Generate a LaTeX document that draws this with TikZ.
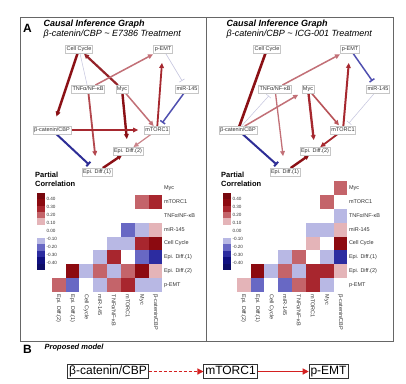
\documentclass[tikz,border=0pt]{standalone}
\usepackage{fontspec}
\setmainfont{Liberation Sans}
\usetikzlibrary{arrows.meta}
\pgfdeclarelayer{back}
\pgfdeclarelayer{bg}
\pgfsetlayers{back,bg,main}
\definecolor{hr4}{HTML}{8C0A10}
\definecolor{hr3}{HTML}{A8262E}
\definecolor{hr2}{HTML}{C4646A}
\definecolor{hr1}{HTML}{E4B4B8}
\definecolor{hb1}{HTML}{B8B8E4}
\definecolor{hb2}{HTML}{6868C4}
\definecolor{hb3}{HTML}{2C2CA0}
\definecolor{hb4}{HTML}{101080}
\definecolor{edr}{HTML}{8B1015}
\definecolor{erd}{HTML}{A6282F}
\definecolor{epk}{HTML}{C27077}
\definecolor{ebl}{HTML}{2E2E96}
\definecolor{ebm}{HTML}{5050B0}
\definecolor{elv}{HTML}{C4C4DE}
\definecolor{bred}{HTML}{D42020}
\definecolor{txt}{HTML}{333333}
\begin{document}
\begin{tikzpicture}[x=1pt,y=-1pt,
  gn/.style={draw=gray!45, fill=white, inner sep=1.1pt, text=txt,
    font=\fontsize{5.5}{6}\selectfont, text height=4.1pt, text depth=1.2pt},
  act/.style={-{Triangle[length=5pt,width=4.6pt]}},
  inh/.style={-{Bar[width=6pt]}},
  hl/.style={text=txt, font=\fontsize{5.5}{6}\selectfont, inner sep=0.5pt},
  ll/.style={text=txt, font=\fontsize{4.6}{5}\selectfont, inner sep=0.3pt, anchor=west},
  ttl/.style={anchor=west, inner sep=0pt, font=\fontsize{9}{10}\selectfont\bfseries\itshape},
  stl/.style={anchor=west, inner sep=0pt, font=\fontsize{9}{10}\selectfont\itshape},
  pb/.style={draw=txt, line width=0.6pt, inner sep=1.5pt, font=\fontsize{12}{13}\selectfont,
    text height=8.6pt, text depth=2.2pt}]
\useasboundingbox (0,0) rectangle (406,383);
\begin{pgfonlayer}{back}
\fill[white] (0,0) rectangle (406,383);
\end{pgfonlayer}
% panel frames
\draw[gray!80!black, line width=0.6pt] (20,17) rectangle (393,341);
\draw[gray!80!black, line width=0.6pt] (206.5,17) -- (206.5,341);
\node[inner sep=0pt, font=\fontsize{12}{13}\selectfont\bfseries] (A) at (27.5,28) {A};
\node[ttl] (t1) at (43.5,24) {Causal Inference Graph};
\node[stl] (s1) at (43.5,34.5) {β-catenin/CBP \textasciitilde{} E7386 Treatment};
\node[ttl] (t2) at (226.5,24) {Causal Inference Graph};
\node[stl] (s2) at (226.5,34.5) {β-catenin/CBP \textasciitilde{} ICG-001 Treatment};

% ---------- left graph nodes
\node[gn] (lCC) at (79,49) {Cell Cycle};
\node[gn] (lPE) at (163,49) {p-EMT};
\node[gn] (lTN) at (88,89) {TNFα/NF-κB};
\node[gn] (lMy) at (122,89) {Myc};
\node[gn] (lMi) at (187,89) {miR-145};
\node[gn] (lBC) at (52,130) {β-catenin/CBP};
\node[gn] (lMT) at (157,130) {mTORC1};
\node[gn] (lE2) at (128,151) {Epi. Diff.(2)};
\node[gn] (lE1) at (97,172) {Epi. Diff.(1)};
% ---------- right graph nodes
\node[gn] (rCC) at (267,49) {Cell Cycle};
\node[gn] (rPE) at (350,49) {p-EMT};
\node[gn] (rTN) at (275,89) {TNFα/NF-κB};
\node[gn] (rMy) at (308,89) {Myc};
\node[gn] (rMi) at (378,89) {miR-145};
\node[gn] (rBC) at (238,130) {β-catenin/CBP};
\node[gn] (rMT) at (343,130) {mTORC1};
\node[gn] (rE2) at (315,151) {Epi. Diff.(2)};
\node[gn] (rE1) at (285,172) {Epi. Diff.(1)};

\begin{pgfonlayer}{bg}
% left edges
\draw[act, edr, line width=2.4pt, shorten >=10pt] (lCC) -- (lBC);
\draw[elv, line width=0.5pt] (lCC) -- (lTN);
\draw[act, erd!90!black, line width=2.2pt, shorten >=1pt] (lMy) -- (lCC);
\draw[act, epk, line width=1.5pt, shorten >=3pt] (lTN) -- (lPE);
\draw[act, erd!85!white, line width=1.8pt, shorten >=12pt] (lTN) -- (lE1);
\draw[act, edr, line width=2.4pt, shorten >=8pt] (lMy) -- (lE2);
\draw[act, epk, line width=1.5pt] (lMy) -- (lMT);
\draw[act, erd, line width=1.8pt, shorten >=10pt] (lMT) -- (lPE);
\draw[inh, elv, line width=0.6pt, shorten >=5pt] (lPE) -- (lMi);
\draw[inh, ebm, line width=1.5pt, shorten >=4pt] (lMi) -- (lMT);
\draw[act, erd, line width=2.2pt, shorten >=6pt] (lBC) -- (lMT);
\draw[inh, ebl, line width=2pt, shorten >=5pt] (lBC) -- (lE1);
\draw[act, epk!85!white, line width=1.2pt] (lMT) -- (lE2);
\draw[act, edr, line width=2.4pt] (lE1) -- (lE2);
% right edges
\draw[edr, line width=2.6pt] (rCC) -- (rBC.center);
\draw[inh, elv, line width=0.5pt, shorten >=4pt] (rBC) -- (rTN);
\draw[act, epk, line width=1.5pt, shorten >=4pt] (rBC) -- (rMy);
\draw[act, epk, line width=1.5pt, shorten >=3pt] (rTN) -- (rPE);
\draw[act, epk, line width=1.3pt, shorten >=12pt] (rTN) -- (rE1);
\draw[act, erd, line width=2.3pt, shorten >=7pt] (rMy) -- (rE2);
\draw[act, erd!80!white, line width=1.6pt, shorten >=1pt] (rMy) -- (rMT);
\draw[act, erd, line width=2pt, shorten >=10pt] (rMT) -- (rPE);
\draw[inh, ebm, line width=1.5pt, shorten >=5pt] (rPE) -- (rMi);
\draw[inh, elv, line width=0.5pt, shorten >=4pt] (rMi) -- (rMT);
\draw[act, erd, line width=1.8pt] (rMT) -- (rE2);
\draw[inh, ebl, line width=2pt, shorten >=5pt] (rBC) -- (rE1);
\draw[act, edr, line width=2.4pt] (rE1) -- (rE2);
\end{pgfonlayer}

% ---------- heatmaps
\def\cw{13.83}
\foreach \r/\c/\col in {1/6/hr2,1/7/hr3,
  3/5/hb2,3/6/hb1,3/7/hr1,
  4/4/hb1,4/5/hb1,4/6/hr3,4/7/hr4,
  5/3/hb1,5/4/hr3,5/6/hb2,5/7/hb3,
  6/1/hr4,6/2/hb1,6/3/hr2,6/4/hb1,6/5/hr2,6/6/hr4,6/7/hr1,
  7/0/hr2,7/1/hb2,7/3/hb1,7/4/hr2,7/5/hr3,7/6/hb1,7/7/hb1}
  \fill[\col] ({51.7+\cw*\c},{181.3+\cw*\r}) rectangle ++(\cw,\cw);
\foreach \r/\c/\col in {0/7/hr2,1/6/hr2,2/7/hb1,
  3/5/hb1,3/6/hb1,3/7/hr1,
  4/5/hr1,4/7/hr4,
  5/3/hb1,5/4/hr2,5/6/hb1,5/7/hb3,
  6/1/hr4,6/2/hb1,6/3/hr2,6/4/hb1,6/5/hr3,6/6/hr3,6/7/hr1,
  7/0/hr1,7/1/hb2,7/3/hb2,7/4/hr2,7/5/hr3,7/6/hb1}
  \fill[\col] ({236.7+\cw*\c},{181.3+\cw*\r}) rectangle ++(\cw,\cw);
\foreach \lab [count=\i from 0] in {Myc,mTORC1,TNFα/NF-κB,miR-145,Cell Cycle,Epi. Diff.(1),Epi. Diff.(2),p-EMT}{
  \node[hl, anchor=west] (lrow\i) at (163.3,{181.3+\cw*(\i+0.5)}) {\lab};
  \node[hl, anchor=west] (rrow\i) at (348.3,{181.3+\cw*(\i+0.5)}) {\lab};
}
\foreach \lab [count=\i from 0] in {Epi. Diff.(2),Epi. Diff.(1),Cell Cycle,miR-145,TNFα/NF-κB,mTORC1,Myc,β-catenin/CBP}{
  \node[hl, anchor=west, rotate=-90] (lcol\i) at ({51.7+\cw*(\i+0.5)},294) {\lab};
  \node[hl, anchor=west, rotate=-90] (rcol\i) at ({236.7+\cw*(\i+0.5)},294) {\lab};
}
% legends
\foreach \x/\nm in {35/l,221/r}{
  \node[anchor=north west, inner sep=0pt, align=left, font=\fontsize{7.5}{9.5}\selectfont\bfseries] (\nm leg) at (\x,171.5) {Partial\\Correlation};
  \foreach \col [count=\k from 0] in {hr4!85!black,hr4,hr3,hr2,hr1,white,white,hb1,hb2,hb3,hb4,hb4!80!black}
    \fill[\col] ({\x+2.3},{192.7+6.44*\k}) rectangle ++(7.8,6.44);
  \foreach \v [count=\k from 0] in {0.40,0.30,0.20,0.10,0.00,-0.10,-0.20,-0.30,-0.40}
    \node[ll] (\nm v\k) at ({\x+11},{199+8*\k}) {\v};
}

% ---------- panel B
\node[inner sep=0pt, font=\fontsize{12}{13}\selectfont\bfseries] (B) at (27.5,349.5) {B};
\node[anchor=west, inner sep=0pt, font=\fontsize{7.5}{9}\selectfont\bfseries\itshape] (pm) at (44.5,348) {Proposed model};
\node[pb] (bBC) at (108,371.5) {β-catenin/CBP};
\node[pb] (bMT) at (230.5,371.5) {mTORC1};
\node[pb] (bPE) at (328.5,371.5) {p-EMT};
\draw[bred, line width=1.2pt, dash pattern=on 3pt off 2pt, -{Triangle[length=6pt,width=6pt]}] (bBC) -- (bMT);
\draw[bred, line width=1.2pt, -{Triangle[length=6pt,width=6pt]}] (bMT) -- (bPE);
\end{tikzpicture}
\end{document}
